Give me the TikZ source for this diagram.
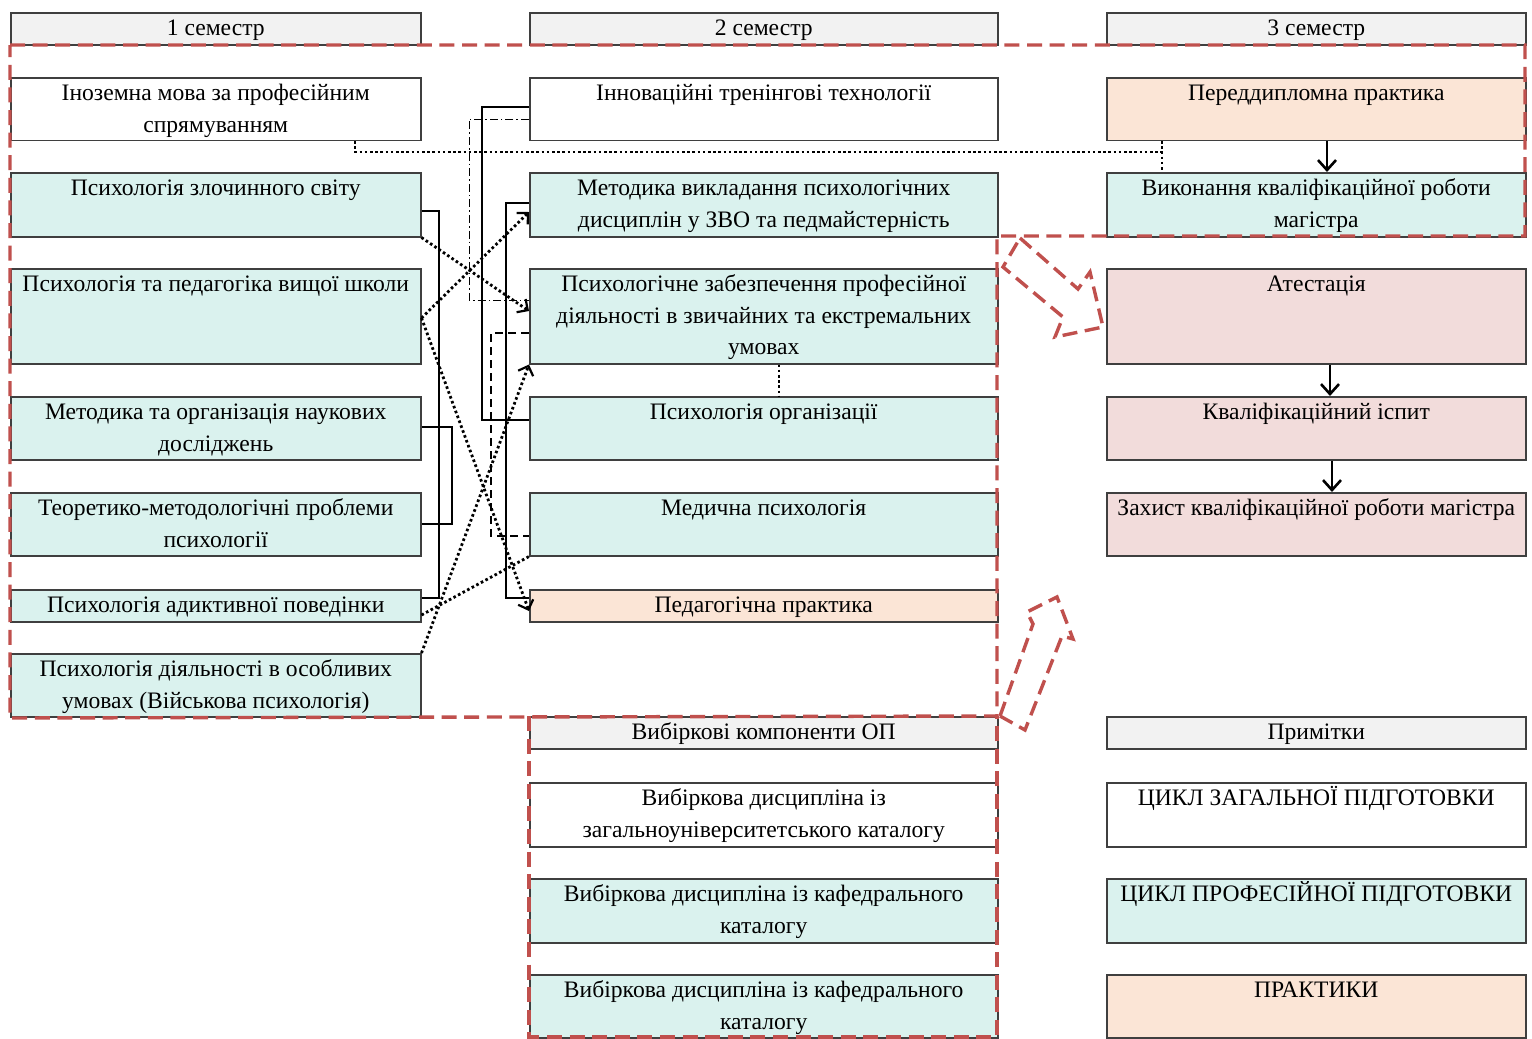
\documentclass[tikz,border=0pt]{standalone}
\usepackage{fontspec}
\setmainfont{Liberation Serif}
\usetikzlibrary{arrows.meta,calc}
\definecolor{cTeal}{HTML}{DAF2EE}
\definecolor{cPeach}{HTML}{FBE5D6}
\definecolor{cPink}{HTML}{F2DCDB}
\definecolor{cGrey}{HTML}{F2F2F2}
\definecolor{cRed}{HTML}{C0504D}
\definecolor{cBorder}{HTML}{3F3F3F}
\tikzset{
  box/.style={draw=cBorder, line width=0.75pt, inner sep=0pt, anchor=north west,
    font=\fontsize{11.8pt}{15.6pt}\selectfont},
  solidc/.style={draw=black, line width=1.3pt},
  dashc/.style={draw=black, line width=1.2pt, dash pattern=on 4pt off 2.5pt},
  dashdotc/.style={draw=black, line width=0.5pt, dash pattern=on 4pt off 1.5pt on 0.8pt off 1.5pt},
  dotc/.style={draw=black, line width=1.4pt, dash pattern=on 1.3pt off 1.3pt},
  dotarrow/.style={dotc, -{Straight Barb[length=4pt,width=8pt,line width=1.1pt]}},
  blkarrow/.style={solidc, -{Straight Barb[length=5pt,width=9pt,line width=1.3pt]}},
  reddash/.style={draw=cRed, line width=1.7pt, dash pattern=on 7.5pt off 3.8pt, line join=miter},
}
\newcommand\mybox[6]{\node[box,fill=#2] (#1) at (#3) {\parbox[c][#5][t]{#4}{\centering\rule{0pt}{11.6pt}#6\par}};}
\begin{document}
\begin{tikzpicture}[x=0.5pt,y=-0.5pt]
\useasboundingbox (0,0) rectangle (1532,1039);
\fill[white] (0,0) rectangle (1532,1039);
% column 1
\mybox{h1}{cGrey}{10,12}{205pt}{16pt}{1 семестр}
\mybox{inoz}{white}{10,77}{205pt}{31.25pt}{Іноземна мова за професійним\\спрямуванням}
\mybox{zloch}{cTeal}{10,172}{205pt}{32pt}{Психологія злочинного світу}
\mybox{pedvsh}{cTeal}{10,268}{205pt}{47.5pt}{Психологія та педагогіка вищої школи}
\mybox{metod}{cTeal}{10,396}{205pt}{31.5pt}{Методика та організація наукових\\досліджень}
\mybox{teor}{cTeal}{10,492}{205pt}{31.5pt}{Теоретико-методологічні проблеми\\психології}
\mybox{adykt}{cTeal}{10,589}{205pt}{16pt}{Психологія адиктивної поведінки}
\mybox{osob}{cTeal}{10,653}{205pt}{31.5pt}{Психологія діяльності в особливих\\умовах (Військова психологія)}
% column 2
\mybox{h2}{cGrey}{529,12}{234pt}{16pt}{2 семестр}
\mybox{innov}{white}{529,77}{234pt}{31.25pt}{Інноваційні тренінгові технології}
\mybox{metvyk}{cTeal}{529,172}{234pt}{32pt}{Методика викладання психологічних\\дисциплін у ЗВО та педмайстерність}
\mybox{zabez}{cTeal}{529,268}{234pt}{47.5pt}{Психологічне забезпечення професійної\\діяльності в звичайних та екстремальних\\умовах}
\mybox{orgp}{cTeal}{529,396}{234pt}{31.5pt}{Психологія організації}
\mybox{med}{cTeal}{529,492}{234pt}{31.5pt}{Медична психологія}
\mybox{pedpr}{cPeach}{529,589}{234pt}{16pt}{Педагогічна практика}
\mybox{vybh}{cGrey}{529,716}{234pt}{16pt}{Вибіркові компоненти ОП}
\mybox{vyb1}{white}{529,782}{234pt}{32pt}{Вибіркова дисципліна із\\загальноуніверситетського каталогу}
\mybox{vyb2}{cTeal}{529,878}{234pt}{32pt}{Вибіркова дисципліна із кафедрального\\каталогу}
\mybox{vyb3}{cTeal}{529,974}{234pt}{31.5pt}{Вибіркова дисципліна із кафедрального\\каталогу}
% column 3
\mybox{h3}{cGrey}{1106,12}{209.5pt}{16pt}{3 семестр}
\mybox{pered}{cPeach}{1106,77}{209.5pt}{31.25pt}{Переддипломна практика}
\mybox{vyk}{cTeal}{1106,172}{209.5pt}{32pt}{Виконання кваліфікаційної роботи\\магістра}
\mybox{atest}{cPink}{1106,268}{209.5pt}{47.5pt}{Атестація}
\mybox{ispyt}{cPink}{1106,396}{209.5pt}{31.5pt}{Кваліфікаційний іспит}
\mybox{zakh}{cPink}{1106,492}{209.5pt}{31.5pt}{Захист кваліфікаційної роботи магістра}
\mybox{prym}{cGrey}{1106,716}{209.5pt}{16pt}{Примітки}
\mybox{leg1}{white}{1106,782}{209.5pt}{32pt}{ЦИКЛ ЗАГАЛЬНОЇ ПІДГОТОВКИ}
\mybox{leg2}{cTeal}{1106,878}{209.5pt}{32pt}{ЦИКЛ ПРОФЕСІЙНОЇ ПІДГОТОВКИ}
\mybox{leg3}{cPeach}{1106,974}{209.5pt}{31.5pt}{ПРАКТИКИ}
% solid brackets
\draw[solidc] (zloch.east |- 0,211) -- (439,211) -- (439,598) -- (adykt.east |- 0,598);
\draw[solidc] (metod.east |- 0,427) -- (452,427) -- (452,524) -- (teor.east |- 0,524);
\draw[solidc] (innov.west |- 0,107) -- (482,107) -- (482,420) -- (orgp.west |- 0,420);
\draw[solidc] (metvyk.west |- 0,203) -- (506,203) -- (506,598) -- (pedpr.west |- 0,598);
\draw[dashc] (zabez.west |- 0,333) -- (491,333) -- (491,536) -- (med.west |- 0,536);
\draw[dashdotc] (innov.west |- 0,119) -- (469,119) -- (469,300) -- (zabez.west |- 0,300);
% dotted
\draw[dotc] (inoz.south -| 355,0) -- (355,152) -- (1162,152);
\draw[dotc] (pered.south -| 1162,0) -- (vyk.north -| 1162,0);
\draw[dotc] (zabez.south -| 779,0) -- (orgp.north -| 779,0);
\draw[dotarrow] (zloch.south east) -- (zabez.west |- 0,311);
\draw[dotarrow] (pedvsh.east |- 0,318) -- (metvyk.west |- 0,212);
\draw[dotarrow] (pedvsh.east |- 0,318) -- (pedpr.west |- 0,611);
\draw[dotc] (adykt.east |- 0,615) -- (med.south west);
\draw[dotarrow] (osob.north east) -- (zabez.south west);
% col3 arrows
\draw[blkarrow] (pered.south -| 1327,0) -- (vyk.north -| 1327,0);
\draw[blkarrow] (atest.south -| 1330,0) -- (ispyt.north -| 1330,0);
\draw[blkarrow] (ispyt.south -| 1332,0) -- (zakh.north -| 1332,0);
% red dashed regions
\draw[reddash] (10,45) -- (1525,45) -- (1525,236) -- (997,236) -- (997,716) -- (10,718) -- cycle;
\draw[reddash] (529,716) -- (529,1037) -- (997,1037) -- (997,716);
% red dashed block arrows
\draw[reddash] (1020,238) -- (1078,289) -- (1090,272) -- (1103,327) -- (1055,337) -- (1063,317) -- (1003,267) -- cycle;
\draw[reddash] (1000,716) -- (1033,624) -- (1027,612) -- (1057,597) -- (1073,639) -- (1062,636) -- (1025,730) -- cycle;
\end{tikzpicture}
\end{document}
